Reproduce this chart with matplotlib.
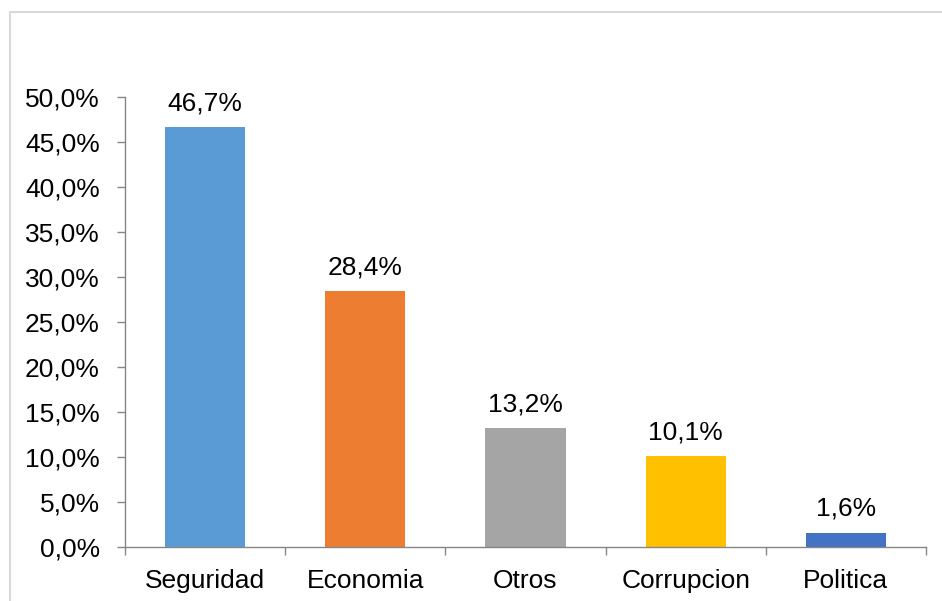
import matplotlib
matplotlib.use("Agg")
import matplotlib.pyplot as plt
from matplotlib.patches import Rectangle

categories = ["Seguridad", "Economia", "Otros", "Corrupcion", "Politica"]
values = [46.7, 28.4, 13.2, 10.1, 1.6]
labels = ["46,7%", "28,4%", "13,2%", "10,1%", "1,6%"]
colors = ["#5B9BD5", "#ED7D31", "#A5A5A5", "#FFC000", "#4472C4"]
yticks = [0, 5, 10, 15, 20, 25, 30, 35, 40, 45, 50]
ytick_labels = ["0,0%", "5,0%", "10,0%", "15,0%", "20,0%", "25,0%", "30,0%", "35,0%", "40,0%", "45,0%", "50,0%"]

plt.rcParams['font.family'] = ['Liberation Sans', 'DejaVu Sans']
W, H = 942, 601
FS = 19
fig = plt.figure(figsize=(W/100, H/100), dpi=100)
fig.patches.append(Rectangle((9.5/W, -0.1), 1.2, (H-11.5)/H + 0.1, transform=fig.transFigure,
                             fill=False, edgecolor="#D9D9D9", linewidth=1.5))

ax = fig.add_axes([125/W, (H-547)/H, (926-125)/W, (547-97)/H])
x = list(range(len(categories)))
ax.bar(x, values, width=0.5, color=colors)
for xi, v, lab in zip(x, values, labels):
    ax.text(xi, v + 1.3, lab, ha="center", va="bottom", fontsize=FS)

ax.set_xlim(-0.5, len(categories) - 0.5)
ax.set_ylim(0, 50)
ax.set_yticks(yticks)
ax.set_yticklabels(ytick_labels, fontsize=FS)
ax.set_xticks(x)
ax.set_xticklabels(categories, fontsize=FS)
ax.set_xticks([i - 0.5 for i in range(len(categories) + 1)], minor=True)
ax.tick_params(axis="x", which="major", length=0, pad=16)
ax.tick_params(axis="x", which="minor", length=6, color="#868686", width=1)
ax.tick_params(axis="y", length=6, color="#868686", width=1, pad=12)
for s in ["top", "right"]:
    ax.spines[s].set_visible(False)
for s in ["left", "bottom"]:
    ax.spines[s].set_color("#868686")
    ax.spines[s].set_linewidth(1)

fig.savefig("out.png", dpi=100)
